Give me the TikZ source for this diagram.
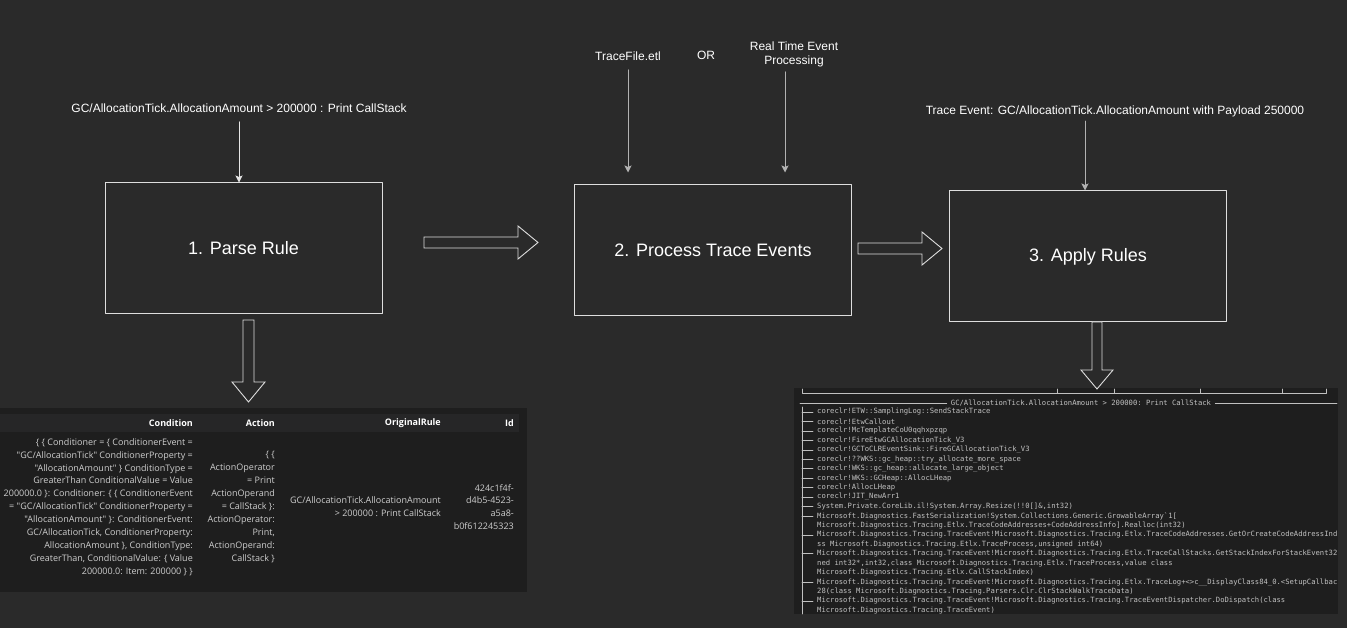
\documentclass[tikz,border=0pt]{standalone}
\usepackage{fontspec}
\setmainfont{Liberation Sans}
\setmonofont{DejaVu Sans Mono}
\newfontfamily\gridfont{Open Sans}
\usetikzlibrary{arrows.meta}
\usetikzlibrary{positioning}
\definecolor{bgdark}{RGB}{42,42,42}
\definecolor{paneldark}{RGB}{30,30,30}
\definecolor{headdark}{RGB}{38,38,39}
\definecolor{boxline}{RGB}{222,222,222}
\definecolor{flowgray}{RGB}{178,178,178}
\definecolor{flowlight}{RGB}{230,230,230}
\definecolor{tracegray}{RGB}{192,192,192}
\definecolor{gridgray}{RGB}{206,206,206}

\tikzset{
  stepbox/.style={draw=boxline,line width=1pt,minimum width=277pt,minimum height=131pt,inner sep=0pt,text=white,font=\fontsize{18}{21}\selectfont},
  lbl/.style={text=white,align=center,font=\fontsize{12}{14.5}\selectfont},
  flow/.style={->,draw=flowgray,line width=1pt},
  fatarrow/.style={draw=boxline,line width=0.9pt,fill=bgdark,line join=miter},
  colhead/.style={anchor=east,inner sep=0pt,text=white,font=\gridfont\bfseries\fontsize{9}{11}\selectfont},
  cell/.style={anchor=east,align=right,inner sep=0pt,text=gridgray,font=\gridfont\fontsize{9}{12.9}\selectfont},
  trace/.style={anchor=west,inner sep=0pt,text=tracegray,font=\ttfamily\fontsize{7.2}{9.45}\selectfont},
  treeline/.style={draw=tracegray,line width=0.6pt},
}

\begin{document}
\begin{tikzpicture}[line cap=round,line join=round,>={Stealth[length=7pt,width=7pt,inset=1.5pt]},x=1pt,y=-1pt]
\fill[bgdark] (0,0) rectangle (1347,628);
\useasboundingbox (0,0) rectangle (1347,628);

% the three steps
\node[stepbox] (parse) at (243.5,248.5) {1. Parse Rule};
\node[stepbox] (proc) at (713,250.5) {2. Process Trace Events};
\node[stepbox] (apply) at (1088,256.5) {3. Apply Rules};

% inputs
\node[lbl] (rule) at (239,108) {GC/AllocationTick.AllocationAmount > 200000 : Print CallStack};
\node[lbl] (etl) at (628,56) {TraceFile.etl};
\node[lbl] (or) at (706,55) {OR};
\node[lbl] (live) at (794,54.5) {Real Time Event\\Processing};
\node[lbl] (event) at (1115,111) {Trace Event: GC/AllocationTick.AllocationAmount with Payload 250000};

\draw[flow,draw=flowlight,shorten <=6pt] (rule.south) -- (rule.south |- parse.north);
\draw[flow,shorten <=6pt,shorten >=12pt] (etl.south) -- (etl.south |- proc.north);
\draw[flow,shorten <=1pt,shorten >=12pt] ([xshift=-9pt]live.south) -- ([xshift=-9pt]live.south |- proc.north);
\draw[flow,shorten <=1pt] ([xshift=-3pt]apply.north |- event.south) -- ([xshift=-3pt]apply.north);

% parsed rule table
\fill[paneldark] (0,408) rectangle (527,592);
\fill[headdark] (0,414) rectangle (519,432);
\node[colhead] (hcond) at (193,423.5) {Condition};
\node[colhead] (hact) at (275,423.5) {Action};
\node[colhead] (horig) at (441,423.5) {OriginalRule};
\node[colhead] (hid) at (514,423.5) {Id};
\node[cell] (ccond) at (193,507) {\{ \{ Conditioner = \{ ConditionerEvent =\\
"GC/AllocationTick" ConditionerProperty =\\
"AllocationAmount" \} ConditionType =\\
GreaterThan ConditionalValue = Value\\
200000.0 \}: Conditioner: \{ \{ ConditionerEvent\\
= "GC/AllocationTick" ConditionerProperty =\\
"AllocationAmount" \}: ConditionerEvent:\\
GC/AllocationTick, ConditionerProperty:\\
AllocationAmount \}, ConditionType:\\
GreaterThan, ConditionalValue: \{ Value\\
200000.0: Item: 200000 \} \}};
\node[cell] (cact) at (275,507) {\{ \{\\
ActionOperator\\
= Print\\
ActionOperand\\
= CallStack \}:\\
ActionOperator:\\
Print,\\
ActionOperand:\\
CallStack \}};
\node[cell] (corig) at (441,507) {GC/AllocationTick.AllocationAmount\\
> 200000 : Print CallStack};
\node[cell] (cid) at (514,507) {424c1f4f-\\
d4b5-4523-\\
a5a8-\\
b0f612245323};

% call stack output
\fill[paneldark] (794,388) rectangle (1338,614);
\draw[treeline] (802,389) -- (802,393) -- (1326,393) -- (1326,389);
\foreach \tx in {1057,1114,1200,1282}
\draw[treeline] (\tx,393) -- (\tx,389);
\node[trace,anchor=center,inner xsep=4pt] (ctitle) at (1081,403) {GC/AllocationTick.AllocationAmount > 200000: Print CallStack};
\draw[treeline] (800,403) -- (ctitle.west);
\draw[treeline] (ctitle.east) -- (1337,403);
\draw[treeline] (802,407) -- (802,614);
\foreach \b in {0,...,11,13,15,18,20}
\draw[treeline] (802,412+9.45*\b) -- (813,412+9.45*\b);
\begin{scope}
\clip (794,388) rectangle (1336,614);
\foreach \ln [count=\i from 0] in {
{coreclr!ETW::SamplingLog::SendStackTrace},
{coreclr!EtwCallout},
{coreclr!McTemplateCoU0qqhxpzqp},
{coreclr!FireEtwGCAllocationTick\_V3},
{coreclr!GCToCLREventSink::FireGCAllocationTick\_V3},
{coreclr!??WKS::gc\_heap::try\_allocate\_more\_space},
{coreclr!WKS::gc\_heap::allocate\_large\_object},
{coreclr!WKS::GCHeap::AllocLHeap},
{coreclr!AllocLHeap},
{coreclr!JIT\_NewArr1},
{System.Private.CoreLib.il!System.Array.Resize(!!0[]\&,int32)},
{Microsoft.Diagnostics.FastSerialization!System.Collections.Generic.GrowableArray`1[},
{Microsoft.Diagnostics.Tracing.Etlx.TraceCodeAddresses+CodeAddressInfo].Realloc(int32)},
{Microsoft.Diagnostics.Tracing.TraceEvent!Microsoft.Diagnostics.Tracing.Etlx.TraceCodeAddresses.GetOrCreateCodeAddressInd},
{ss Microsoft.Diagnostics.Tracing.Etlx.TraceProcess,unsigned int64)},
{Microsoft.Diagnostics.Tracing.TraceEvent!Microsoft.Diagnostics.Tracing.Etlx.TraceCallStacks.GetStackIndexForStackEvent32},
{ned int32*,int32,class Microsoft.Diagnostics.Tracing.Etlx.TraceProcess,value class},
{Microsoft.Diagnostics.Tracing.Etlx.CallStackIndex)},
{Microsoft.Diagnostics.Tracing.TraceEvent!Microsoft.Diagnostics.Tracing.Etlx.TraceLog+<>c\_\_DisplayClass84\_0.<SetupCallbac},
{28(class Microsoft.Diagnostics.Tracing.Parsers.Clr.ClrStackWalkTraceData)},
{Microsoft.Diagnostics.Tracing.TraceEvent!Microsoft.Diagnostics.Tracing.TraceEventDispatcher.DoDispatch(class},
{Microsoft.Diagnostics.Tracing.TraceEvent)}}
\node[trace] (ln\i) at (817,412+9.45*\i) {\ln};
\end{scope}

% hand-over arrows
\draw[fatarrow] (424,237) -- (518,237) -- (518,226) -- (538,242.5) -- (518,259) -- (518,248) -- (424,248) -- cycle;
\draw[fatarrow] (858,243) -- (922,243) -- (922,232) -- (942,248.5) -- (922,265) -- (922,254) -- (858,254) -- cycle;
\draw[fatarrow] (243,320) -- (243,382) -- (232,382) -- (248.5,402) -- (265,382) -- (254,382) -- (254,320) -- cycle;
\draw[fatarrow] (1092,322) -- (1092,370) -- (1081,370) -- (1097,389) -- (1113,370) -- (1102,370) -- (1102,322) -- cycle;
\end{tikzpicture}
\end{document}
